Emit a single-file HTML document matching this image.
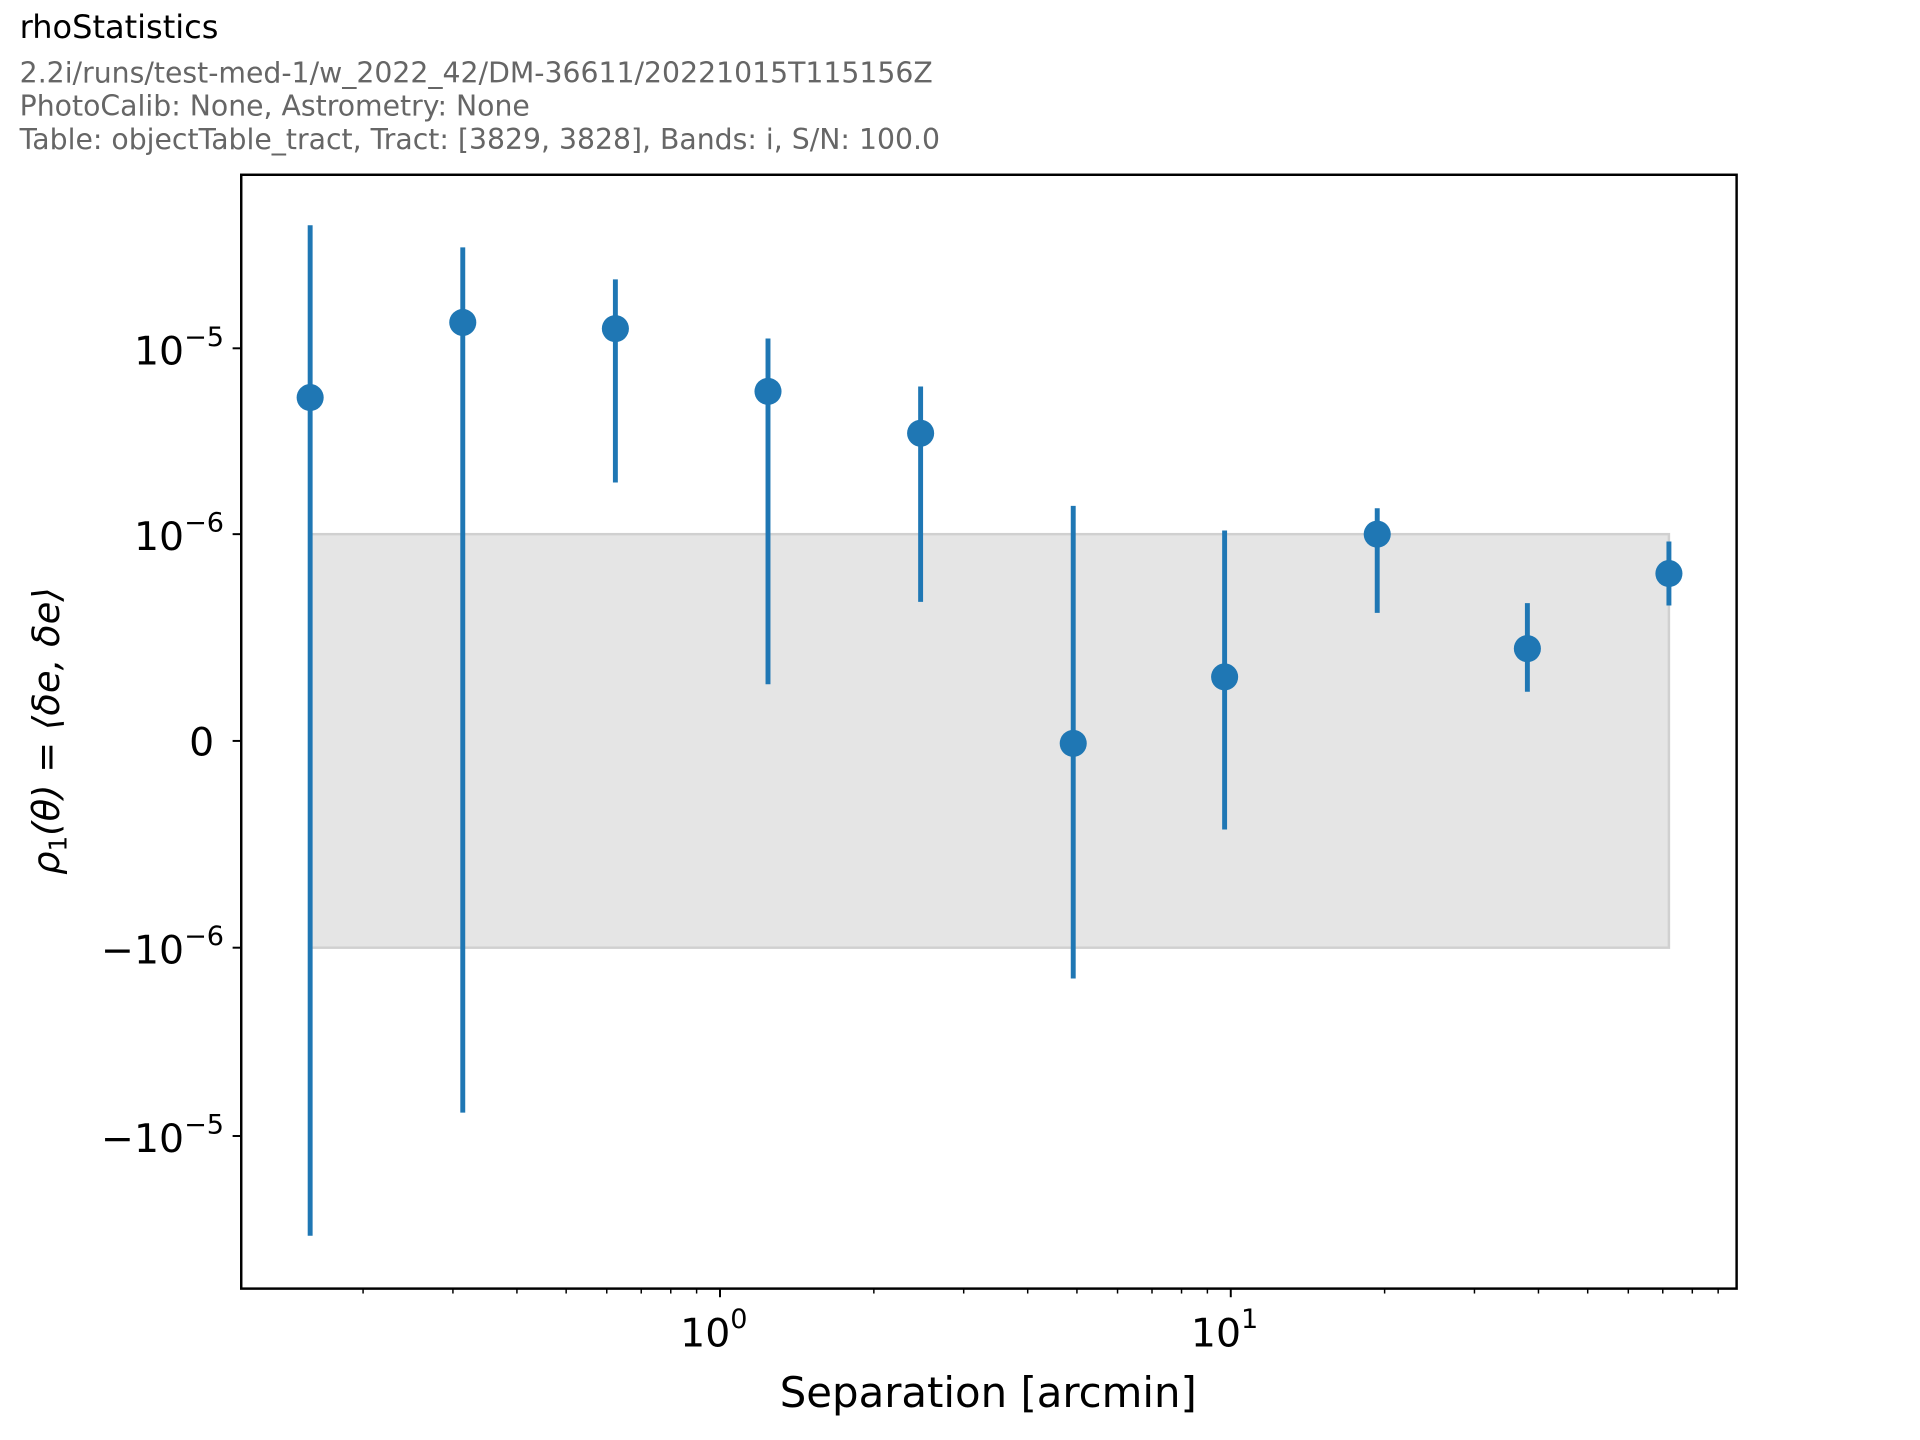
<!DOCTYPE html>
<html><head><meta charset="utf-8"><style>html,body{margin:0;padding:0;background:#fff}svg{display:block}</style></head>
<body>
<svg width="1920" height="1440" viewBox="0 0 1560 1170" preserveAspectRatio="none" xmlns="http://www.w3.org/2000/svg" font-family="'DejaVu Sans', 'Liberation Sans', sans-serif">
<rect width="1560" height="1170" fill="#fff"/>
<text x="16" y="31" font-size="26" fill="#000">rhoStatistics</text>
<text x="16" y="67" font-size="23" fill="#666">2.2i/runs/test-med-1/w_2022_42/DM-36611/20221015T115156Z</text>
<text x="16" y="94" font-size="23" fill="#666">PhotoCalib: None, Astrometry: None</text>
<text x="16" y="121" font-size="23" fill="#666">Table: objectTable_tract, Tract: [3829, 3828], Bands: i, S/N: 100.0</text>
<rect x="252" y="434" width="1104" height="336" fill="#e5e5e5" stroke="#d0d0d0" stroke-width="2"/>
<g stroke="#1f77b4" stroke-width="4">
<line x1="252" y1="183" x2="252" y2="1004"/>
<line x1="376" y1="201" x2="376" y2="904"/>
<line x1="500" y1="227" x2="500" y2="392"/>
<line x1="624" y1="275" x2="624" y2="556"/>
<line x1="748" y1="314" x2="748" y2="489"/>
<line x1="872" y1="411" x2="872" y2="795"/>
<line x1="995" y1="431" x2="995" y2="674"/>
<line x1="1119" y1="413" x2="1119" y2="498"/>
<line x1="1241" y1="490" x2="1241" y2="562"/>
<line x1="1356" y1="440" x2="1356" y2="492"/>
</g>
<g fill="#1f77b4">
<circle cx="252" cy="323" r="11"/><circle cx="376" cy="262" r="11"/><circle cx="500" cy="267" r="11"/>
<circle cx="624" cy="318" r="11"/><circle cx="748" cy="352" r="11"/><circle cx="872" cy="604" r="11"/>
<circle cx="995" cy="550" r="11"/><circle cx="1119" cy="434" r="11"/><circle cx="1241" cy="527" r="11"/>
<circle cx="1356" cy="466" r="11"/>
</g>
<rect x="196" y="142" width="1215" height="905" fill="none" stroke="#000" stroke-width="2"/>
<g stroke="#000" stroke-width="1.6">
<line x1="196" y1="283" x2="189" y2="283"/><line x1="196" y1="434" x2="189" y2="434"/>
<line x1="196" y1="602" x2="189" y2="602"/><line x1="196" y1="770" x2="189" y2="770"/>
<line x1="196" y1="923" x2="189" y2="923"/>
<line x1="585" y1="1047" x2="585" y2="1054"/><line x1="1000" y1="1047" x2="1000" y2="1054"/>
</g>
<g stroke="#000" stroke-width="1.2">
<line x1="295" y1="1047" x2="295" y2="1051"/><line x1="368" y1="1047" x2="368" y2="1051"/>
<line x1="420" y1="1047" x2="420" y2="1051"/><line x1="460" y1="1047" x2="460" y2="1051"/>
<line x1="493" y1="1047" x2="493" y2="1051"/><line x1="521" y1="1047" x2="521" y2="1051"/>
<line x1="545" y1="1047" x2="545" y2="1051"/><line x1="566" y1="1047" x2="566" y2="1051"/>
<line x1="710" y1="1047" x2="710" y2="1051"/><line x1="783" y1="1047" x2="783" y2="1051"/>
<line x1="835" y1="1047" x2="835" y2="1051"/><line x1="875" y1="1047" x2="875" y2="1051"/>
<line x1="908" y1="1047" x2="908" y2="1051"/><line x1="936" y1="1047" x2="936" y2="1051"/>
<line x1="960" y1="1047" x2="960" y2="1051"/><line x1="981" y1="1047" x2="981" y2="1051"/>
<line x1="1125" y1="1047" x2="1125" y2="1051"/><line x1="1198" y1="1047" x2="1198" y2="1051"/>
<line x1="1250" y1="1047" x2="1250" y2="1051"/><line x1="1290" y1="1047" x2="1290" y2="1051"/>
<line x1="1323" y1="1047" x2="1323" y2="1051"/><line x1="1351" y1="1047" x2="1351" y2="1051"/>
<line x1="1375" y1="1047" x2="1375" y2="1051"/><line x1="1396" y1="1047" x2="1396" y2="1051"/>
</g>
<g font-size="32" fill="#000" text-anchor="end">
<text x="182" y="296">10<tspan font-size="22" dy="-15">−5</tspan></text>
<text x="182" y="447">10<tspan font-size="22" dy="-15">−6</tspan></text>
<text x="174" y="614">0</text>
<text x="182" y="783">−10<tspan font-size="22" dy="-15">−6</tspan></text>
<text x="182" y="936">−10<tspan font-size="22" dy="-15">−5</tspan></text>
</g>
<g font-size="32" fill="#000" text-anchor="middle">
<text x="580" y="1094">10<tspan font-size="22" dy="-15">0</tspan></text>
<text x="995" y="1094">10<tspan font-size="22" dy="-15">1</tspan></text>
<text x="803" y="1143" font-size="34">Separation [arcmin]</text>
</g>
<text transform="translate(48,594) rotate(-90)" font-size="30" text-anchor="middle" font-style="italic" fill="#000">ρ<tspan font-size="20" dy="6" font-style="normal">1</tspan><tspan dy="-6">(θ) = ⟨δe, δe⟩</tspan></text>
</svg>
</body></html>
